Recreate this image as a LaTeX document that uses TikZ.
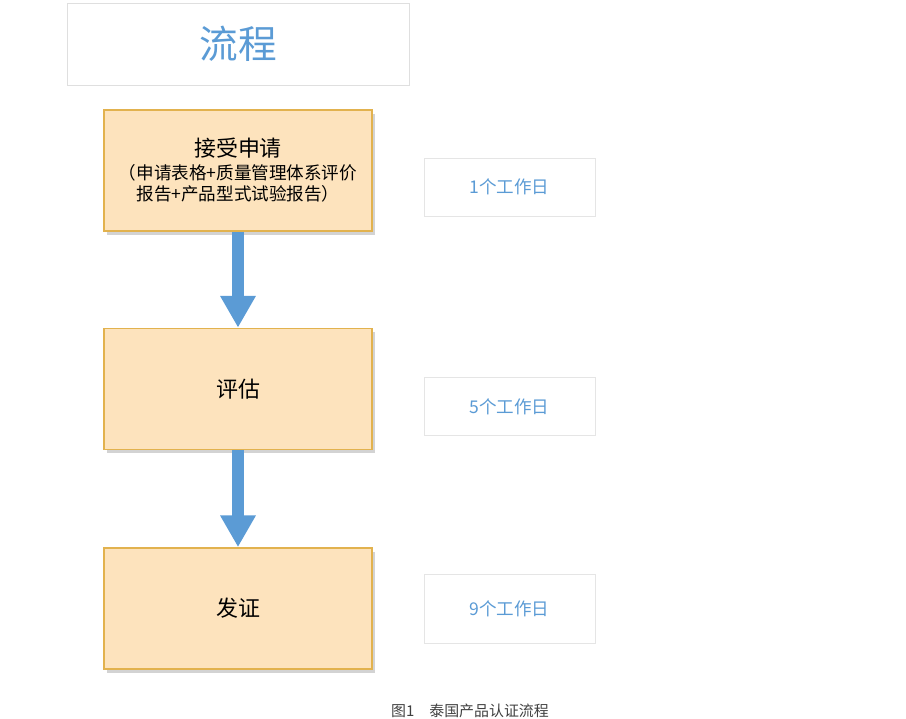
\documentclass[tikz,border=0pt]{standalone}
\usepackage{fontspec}
\setmainfont{Noto Sans CJK SC}
\usepackage{xcolor}
\usetikzlibrary{arrows.meta,shadows,positioning}
\definecolor{peach}{HTML}{FDE3BD}
\definecolor{gold}{HTML}{E2B24E}
\definecolor{flowblue}{HTML}{5B9BD5}
\tikzset{
  stepbox/.style={draw=gold,fill=peach,line width=1pt,minimum width=268*0.02cm,minimum height=121*0.02cm,align=center,drop shadow={opacity=0.35,shadow xshift=1.5pt,shadow yshift=-2pt}},
  daybox/.style={draw=gray!20,minimum width=171*0.02cm,minimum height=58*0.02cm,text=flowblue,font=\fontsize{10}{12}\selectfont},
  flow/.style={flowblue,line width=6.8pt,-{Triangle[length=18pt,width=19pt]}}
}
\begin{document}
\begin{tikzpicture}[x=0.02cm,y=-0.02cm]
  \useasboundingbox (0,0) rectangle (906,719);

  % Title
  \node[draw=gray!25,minimum width=342*0.02cm,minimum height=82*0.02cm,text=flowblue,font=\fontsize{22}{26}\selectfont] (title) at (238,44) {流程};

  % Steps
  \node[stepbox] (apply) at (238,170.5) {\fontsize{12.5}{17}\selectfont 接受申请\\[1pt]
    \fontsize{10}{14}\selectfont （申请表格+质量管理体系评价\\ 报告+产品型式试验报告）};
  \node[stepbox] (assess) at (238,389) {\fontsize{12.5}{15}\selectfont 评估};
  \node[stepbox] (issue) at (238,608.5) {\fontsize{12.5}{15}\selectfont 发证};

  % Arrows
  \draw[flow] (apply.south) -- (assess.north);
  \draw[flow] (assess.south) -- (issue.north);

  % Working days
  \node[daybox] (d1) at (509.5,187) {1个工作日};
  \node[daybox] (d2) at (509.5,406.5) {5个工作日};
  \node[daybox,minimum height=69*0.02cm] (d3) at (509.5,608.5) {9个工作日};

  % Caption
  \node[text=black!75,font=\fontsize{8.5}{10}\selectfont] (cap) at (470,711) {图1\quad 泰国产品认证流程};
\end{tikzpicture}
\end{document}
